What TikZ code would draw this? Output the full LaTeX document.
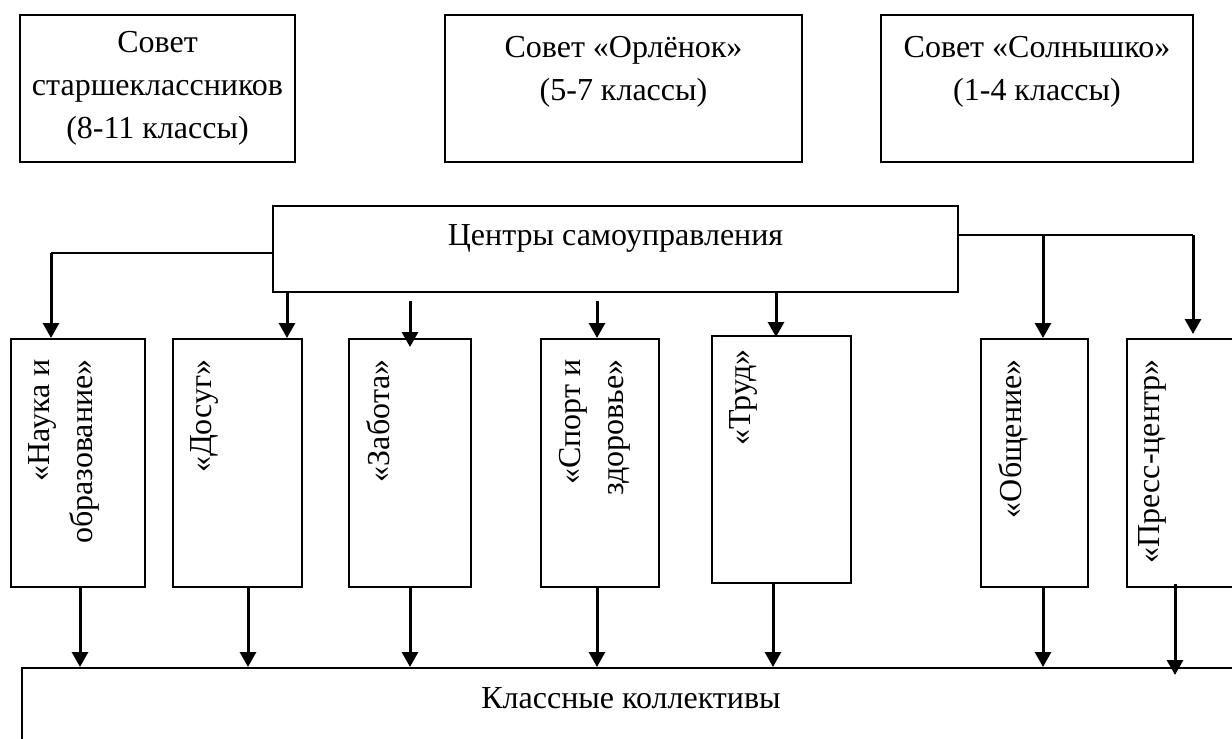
\documentclass[tikz,border=0pt]{standalone}
\usepackage{fontspec}
\setmainfont{Liberation Serif}
\usetikzlibrary{arrows.meta}

\begin{document}
\begin{tikzpicture}[x=0.5pt,y=-0.5pt]
    \tikzset{box/.style=  {draw,
                           rectangle,
                           line width=1pt,
                           align=center,
                           inner sep=0pt,
                           font=\fontsize{16}{21.5}\selectfont},
             col/.style=  {box,
                           minimum height=124pt},
             vtext/.style= {rotate=90,
                           anchor=north east,
                           align=right,
                           inner sep=0pt,
                           font=\fontsize{16}{21.5}\selectfont},
             arr/.style=  {-{Triangle[width=8pt,length=7.5pt]},
                           line width=1.5pt},
             link/.style= {line width=1pt},
            }
    \useasboundingbox (0,0) rectangle (1232,739);
    \clip (0,0) rectangle (1232,739);
    \path
    (157.5,88.5) node[box,minimum width=137.5pt,minimum height=73.5pt](ss) {Совет\\старшеклассников\\(8-11 классы)}
    (623.5,88.5) node[box,minimum width=178.5pt,minimum height=73.5pt,text depth=20pt](orl) {Совет «Орлёнок»\\(5-7 классы)}
    (1037,88.5)  node[box,minimum width=156pt,minimum height=73.5pt,text depth=20pt](sol) {Совет «Солнышко»\\(1-4 классы)}
    (615.5,249)  node[box,minimum width=342.5pt,minimum height=43pt,text depth=14pt](centr) {Центры самоуправления}
    (78,463)     node[col,minimum width=67pt](nauka) {}
    (237.5,463)  node[col,minimum width=64.5pt](dosug) {}
    (410,463)    node[col,minimum width=61pt](zabota) {}
    (600,463)    node[col,minimum width=59pt](sport) {}
    (781.5,459.5) node[col,minimum width=69.5pt,minimum height=123.5pt](trud) {}
    (1034.5,463) node[col,minimum width=53.5pt](obsch) {}
    (1193.5,463) node[col,minimum width=66.5pt](press) {}
    (631,714)    node[box,minimum width=609pt,minimum height=46pt,text depth=16pt](klass) {Классные коллективы}
    ;
    % подписи в столбцах
    \node[vtext] (tn) at ([shift={(18.5,21)}]nauka.north west)  {«Наука и\\образование»};
    \node[vtext] (td) at ([shift={(18.5,21)}]dosug.north west)  {«Досуг»};
    \node[vtext] (tz) at ([shift={(18.5,21)}]zabota.north west) {«Забота»};
    \node[vtext] (ts) at ([shift={(18.5,21)}]sport.north west)  {«Спорт и\\здоровье»};
    \node[vtext] (tt) at ([shift={(18.5,14)}]trud.north west)   {«Труд»};
    \node[vtext] (to) at ([shift={(18.5,21)}]obsch.north west)  {«Общение»};
    \node[vtext] (tp) at ([shift={(12,21)}]press.north west)    {«Пресс-центр»};
    % x-положения стрелок
    \path (287,0) coordinate (xd1) (248,0) coordinate (xd2)
          (597,0) coordinate (xs)
          (776,0) coordinate (xt1) (773,0) coordinate (xt2)
          (1043,0) coordinate (xo) (1175,0) coordinate (xp);
    % ветви от центров
    \draw[link] ([yshift=-2pt]centr.west) -- ++(-221,0) coordinate (kl);
    \draw[arr]  (kl) -- (kl |- nauka.north);
    \draw[link] ([yshift=7pt]centr.east) -- ++(234,0) coordinate (kr);
    \draw[arr]  (kr) -- ([yshift=2pt]kr |- press.north);
    \draw[arr]  (xo |- kr) -- (xo |- obsch.north);
    \draw[arr]  (xd1 |- centr.south) -- (xd1 |- dosug.north);
    \draw[arr,shorten <=4pt,shorten >=-4.5pt] (zabota.north |- centr.south) -- (zabota.north);
    \draw[arr,shorten <=4pt] (xs |- centr.south) -- (xs |- sport.north);
    \draw[arr]  (xt1 |- centr.south) -- ([yshift=-1pt]xt1 |- trud.north);
    % стрелки к классным коллективам
    \draw[arr]  ([xshift=1pt]nauka.south) -- ([xshift=1pt]nauka.south |- klass.north);
    \draw[arr]  (xd2 |- dosug.south) -- (xd2 |- klass.north);
    \draw[arr]  (zabota.south) -- (zabota.south |- klass.north);
    \draw[arr]  (xs |- sport.south) -- (xs |- klass.north);
    \draw[arr]  (xt2 |- trud.south) -- (xt2 |- klass.north);
    \draw[arr]  (xo |- obsch.south) -- (xo |- klass.north);
    \draw[arr,shorten >=-4pt] ([yshift=2pt]xp |- press.south) -- (xp |- klass.north);
\end{tikzpicture}
\end{document}
